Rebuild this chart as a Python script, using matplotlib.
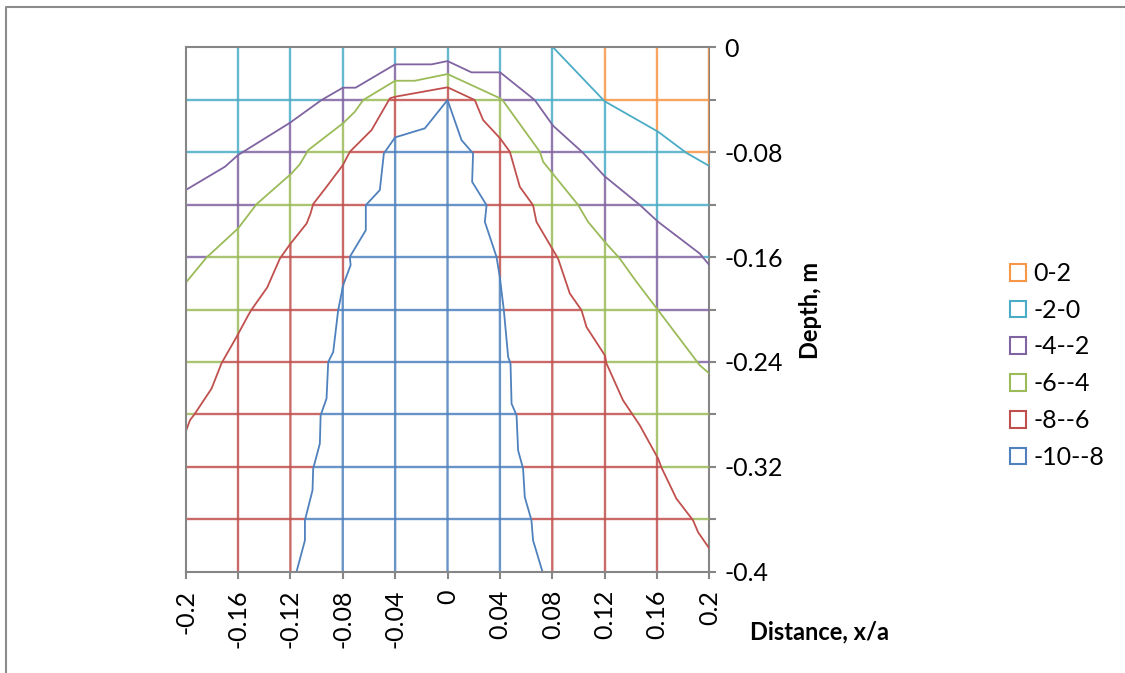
import numpy as np
import matplotlib.pyplot as plt
from matplotlib.path import Path
from matplotlib.patches import Patch
from matplotlib.lines import Line2D

plt.rcParams['font.family'] = ['Lato', 'DejaVu Sans']

# bands (legend order) and Excel colours
band_labels = ['0-2', '-2-0', '-4--2', '-6--4', '-8--6', '-10--8']
band_colors = ['#F79646', '#4BACC6', '#8064A2', '#9BBB59', '#C0504D', '#4F81BD']

x_ticks = [-0.2, -0.16, -0.12, -0.08, -0.04, 0, 0.04, 0.08, 0.12, 0.16, 0.2]
x_tick_labels = ['-0.2', '-0.16', '-0.12', '-0.08', '-0.04', '0',
                 '0.04', '0.08', '0.12', '0.16', '0.2']
y_ticks = [0, -0.04, -0.08, -0.12, -0.16, -0.2, -0.24, -0.28, -0.32, -0.36, -0.4]
y_tick_labels = ['0', '', '-0.08', '', '-0.16', '', '-0.24', '', '-0.32', '', '-0.4']

# contour lines: level 0 (cyan boundary)
lev0_x = [0.0806, 0.1198, 0.1264, 0.1608, 0.1824, 0.2]
lev0_y = [0.0, -0.0410, -0.0448, -0.0644, -0.0805, -0.0906]

# level -2
lev2_x = [-0.2, -0.170, -0.160, -0.1204, -0.0962, -0.0799, -0.0702, -0.040, -0.0122, 0.0,
          0.0183, 0.0402, 0.0666, 0.0806, 0.1035, 0.1198, 0.1468, 0.1608, 0.1926, 0.2]
lev2_y = [-0.1089, -0.0911, -0.0822, -0.0576, -0.0402, -0.0308, -0.0308, -0.0130, -0.0130, -0.0105,
          -0.0191, -0.0191, -0.0402, -0.0598, -0.0805, -0.0982, -0.1202, -0.1331, -0.1573, -0.1662]

# level -4
lev4_x = [-0.2, -0.184, -0.160, -0.1458, -0.1191, -0.1127, -0.1064, -0.0799, -0.0708, -0.0644,
          -0.040, -0.025, 0.0, 0.0402, 0.0424, 0.0705, 0.0730, 0.0806, 0.0997, 0.1073,
          0.1201, 0.1315, 0.1443, 0.1608, 0.1926, 0.2]
lev4_y = [-0.1797, -0.1603, -0.1382, -0.1196, -0.0962, -0.0891, -0.0784, -0.0580, -0.0492, -0.0402,
          -0.0255, -0.0255, -0.0204, -0.0389, -0.0408, -0.0797, -0.0873, -0.0967, -0.1202, -0.1331,
          -0.1484, -0.1611, -0.1789, -0.2005, -0.2425, -0.2489]

# level -6
lev6_x = [-0.2, -0.1967, -0.1929, -0.1802, -0.1725, -0.1611, -0.1522, -0.1496, -0.1377, -0.1280,
          -0.1204, -0.1076, -0.1046, -0.1026, -0.0924, -0.0799, -0.0746, -0.0580, -0.0440, -0.040,
          0.0, 0.0208, 0.0272, 0.0402, 0.0476, 0.0552, 0.0653, 0.0679, 0.0806, 0.0844,
          0.0934, 0.1023, 0.1061, 0.1201, 0.1214, 0.1340, 0.1468, 0.1608, 0.1634, 0.1748,
          0.1875, 0.1913, 0.2]
lev6_y = [-0.2934, -0.2845, -0.2794, -0.2603, -0.2408, -0.2209, -0.2044, -0.2000, -0.1832, -0.1611,
          -0.1504, -0.1344, -0.1267, -0.1196, -0.1064, -0.0898, -0.0797, -0.0631, -0.0389, -0.0377,
          -0.0305, -0.0402, -0.0555, -0.0695, -0.0797, -0.1064, -0.1204, -0.1331, -0.1547, -0.1611,
          -0.1878, -0.2005, -0.2133, -0.2349, -0.2412, -0.2692, -0.2883, -0.3137, -0.3206, -0.3443,
          -0.3608, -0.3698, -0.3824]

# level -8
lev8_x = [-0.1153, -0.1089, -0.1089, -0.1031, -0.1026, -0.0975, -0.0969, -0.0924, -0.0911, -0.0873,
          -0.0835, -0.0797, -0.0740, -0.0746, -0.0624, -0.0624, -0.0517, -0.0486, -0.040, -0.0173,
          0.0, 0.0107, 0.0195, 0.0188, 0.0298, 0.0285, 0.0374, 0.0399, 0.0430, 0.0463,
          0.0481, 0.0489, 0.0527, 0.0539, 0.0577, 0.0590, 0.0641, 0.0653, 0.0725]
lev8_y = [-0.4, -0.3761, -0.3608, -0.3379, -0.3214, -0.3023, -0.2807, -0.2679, -0.2400, -0.2324,
          -0.2005, -0.1814, -0.1662, -0.1598, -0.1395, -0.1204, -0.1089, -0.0809, -0.0687, -0.0618,
          -0.0402, -0.0708, -0.0809, -0.1026, -0.1204, -0.1331, -0.1598, -0.1751, -0.2005, -0.2362,
          -0.2412, -0.2718, -0.2807, -0.3074, -0.3214, -0.3431, -0.3608, -0.3760, -0.4]

# (x, y, colour index) – a contour line takes the colour of the band below it
lines = [(lev0_x, lev0_y, 1), (lev2_x, lev2_y, 2), (lev4_x, lev4_y, 3),
         (lev6_x, lev6_y, 4), (lev8_x, lev8_y, 5)]


def region(xs, ys, closing):
    pts = list(zip(xs, ys)) + closing
    return Path(pts + [pts[0]], closed=True)


regions = [
    region(lev0_x, lev0_y, [(0.25, lev0_y[-1]), (0.25, -0.45), (-0.25, -0.45),
                            (-0.25, 0.05), (lev0_x[0], 0.05)]),
]
for xs, ys in [(lev2_x, lev2_y), (lev4_x, lev4_y), (lev6_x, lev6_y)]:
    regions.append(region(xs, ys, [(0.25, ys[-1]), (0.25, -0.45),
                                   (-0.25, -0.45), (-0.25, ys[0])]))
regions.append(region(lev8_x, lev8_y, [(lev8_x[-1], -0.45), (lev8_x[0], -0.45)]))


def band_of(px, py):
    pts = np.column_stack([px, py])
    count = np.zeros(len(pts), dtype=int)
    for r in regions:
        count += r.contains_points(pts)
    return count


def draw_runs(ax, px, py, only=None):
    b = band_of(px, py)
    change = np.nonzero(np.diff(b))[0]
    starts = np.r_[0, change + 1]
    ends = np.r_[change + 1, len(b)]
    for s, e in zip(starts, ends):
        if only is not None and b[s] not in only:
            continue
        i0 = max(s - 1, 0)
        i1 = min(e, len(b) - 1)
        ax.plot(px[i0:i1 + 1], py[i0:i1 + 1], color=band_colors[b[s]], lw=1.7,
                alpha=0.85, solid_capstyle='butt', zorder=2)


fig = plt.figure(figsize=(11.25, 6.73), dpi=100)
ax = fig.add_axes([0.165, 0.1505, 0.4656, 0.7792])
ax.set_xlim(-0.2, 0.2)
ax.set_ylim(-0.4, 0)

n = 2001
for xg in x_ticks[1:-1]:
    draw_runs(ax, np.full(n, xg), np.linspace(0, -0.4, n))
draw_runs(ax, np.full(n, 0.2), np.linspace(0, -0.4, n), only=[0])
for yg in y_ticks[1:-1]:
    draw_runs(ax, np.linspace(-0.2, 0.2, n), np.full(n, yg))

for xs, ys, ci in lines:
    ax.plot(xs, ys, color=band_colors[ci], lw=1.3, zorder=4)

for side in ['left', 'top', 'bottom']:
    ax.spines[side].set_color('#868686')
    ax.spines[side].set_linewidth(1.5)
    ax.spines[side].set_zorder(5)
ax.spines['right'].set_color('#868686')
ax.spines['right'].set_linewidth(1.5)
ax.spines['right'].set_zorder(1)

ax.set_xticks(x_ticks)
ax.set_xticklabels(x_tick_labels, rotation=90, fontsize=18)
ax.set_yticks(y_ticks)
ax.set_yticklabels(y_tick_labels, fontsize=18)
ax.yaxis.tick_right()
ax.tick_params(axis='both', color='#868686', width=1.5, length=5, pad=6)
ax.tick_params(axis='x', pad=8)
ax.tick_params(axis='y', left=False, right=True)

fig.text(810 / 1125, 1 - 310 / 673, 'Depth, m', rotation=90, fontsize=17,
         fontweight='bold', ha='center', va='center')
fig.text(819 / 1125, 1 - 632 / 673, 'Distance, x/a', fontsize=17,
         fontweight='bold', ha='center', va='center')

handles = [Patch(facecolor='white', edgecolor=c, linewidth=1.5, label=l)
           for c, l in zip(band_colors, band_labels)]
fig.legend(handles=handles, loc='upper left', bbox_to_anchor=(1010 / 1125, 1 - 262 / 673),
           frameon=False, fontsize=18, handlelength=0.65, handleheight=0.65,
           handletextpad=0.3, labelspacing=0.55, borderaxespad=0, borderpad=0)

# chart area border (top and left visible)
fig.add_artist(Line2D([6 / 1125, 6 / 1125, 1.0], [0.0, 1 - 7 / 673, 1 - 7 / 673],
                      transform=fig.transFigure, color='#8c8c8c', lw=1.5))

fig.savefig('out.png', dpi=100)
